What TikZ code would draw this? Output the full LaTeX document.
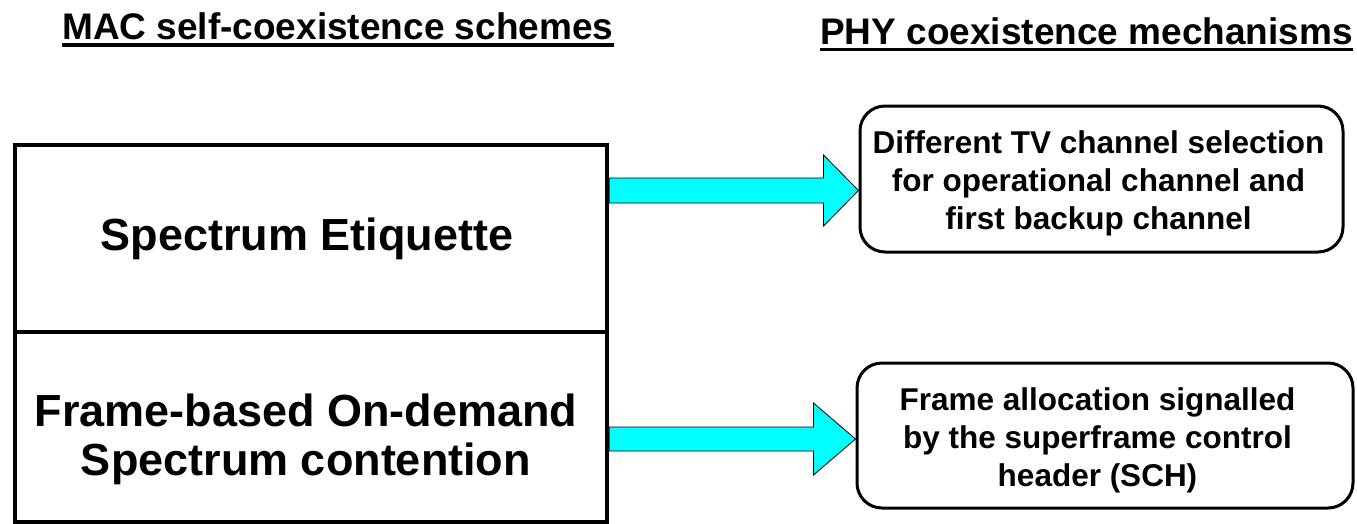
\documentclass[tikz,border=0pt]{standalone}
\usepackage{fontspec}
\setmainfont{Liberation Sans}
\usetikzlibrary{calc}
\definecolor{arrowcyan}{RGB}{0,255,255}
\pgfdeclarelayer{background}
\pgfsetlayers{background,main}
\newcommand\blockarrow[5]{%
  \filldraw[arrowstyle] ($(#1)+(0,-#3)$) -- ($(#2)+(-#5,-#3)$) -- ($(#2)+(-#5,-#4)$) -- (#2)
    -- ($(#2)+(-#5,#4)$) -- ($(#2)+(-#5,#3)$) -- ($(#1)+(0,#3)$) -- cycle;}
\begin{document}
\begin{tikzpicture}[x=1pt,y=-1pt,
  heading/.style={font=\fontsize{37}{44}\selectfont\bfseries, inner sep=0pt, anchor=base west},
  leftbox/.style={draw, line width=4.5pt, minimum width=592pt, inner sep=0pt},
  lefttext/.style={font=\fontsize{45}{49}\selectfont\bfseries, align=center, inner sep=0pt},
  roundbox/.style={draw, line width=3pt, rounded corners=25pt, inner sep=0pt},
  boxtext/.style={font=\fontsize{31.5}{38}\selectfont\bfseries, align=center, inner sep=0pt},
  arrowstyle/.style={fill=arrowcyan, draw=black, line width=0.8pt}]
\useasboundingbox (0,0) rectangle (1357,523);

% headings
\node[heading] (h1) at (62,39.5) {MAC self-coexistence schemes};
\node[heading] (h2) at (820,44) {PHY coexistence mechanisms};
\draw[line width=3.5pt] ([yshift=-5.5pt]h1.base west) -- ([yshift=-5.5pt]h1.base east);
\draw[line width=3.5pt] ([yshift=-5.5pt]h2.base west) -- ([yshift=-5.5pt]h2.base east);

% left boxes
\node[leftbox, minimum height=187pt] (le) at (311,238.5) {};
\node[leftbox, minimum height=190pt] (lf) at (311,427) {};
\node[lefttext, anchor=base] (te) at (307,250) {Spectrum Etiquette};
\node[lefttext] (tf) at (306,439.6) {Frame-based On-demand\\Spectrum contention};

% right boxes
\node[roundbox, minimum width=483pt, minimum height=146pt] (b1) at (1101.5,179) {};
\node[roundbox, minimum width=496pt, minimum height=145pt] (b2) at (1105,435.5) {};
\node[boxtext] (t1) at (1098.5,183.8)
  {Different TV channel selection\\for operational channel and\\first backup channel};
\node[boxtext] (t2) at (1097.5,440.3)
  {Frame allocation signalled\\by the superframe control\\header (SCH)};

% arrows
\coordinate (y1) at (0,190.5);
\coordinate (y2) at (0,439);
\coordinate (a1s) at (le.east |- y1);
\coordinate (a1e) at (b1.west |- y1);
\coordinate (a2s) at (lf.east |- y2);
\coordinate (a2e) at (b2.west |- y2);
\begin{pgfonlayer}{background}
\blockarrow{a1s}{a1e}{12.5}{35.5}{35}
\blockarrow{a2s}{a2e}{12}{36}{42}
\end{pgfonlayer}
\end{tikzpicture}
\end{document}
